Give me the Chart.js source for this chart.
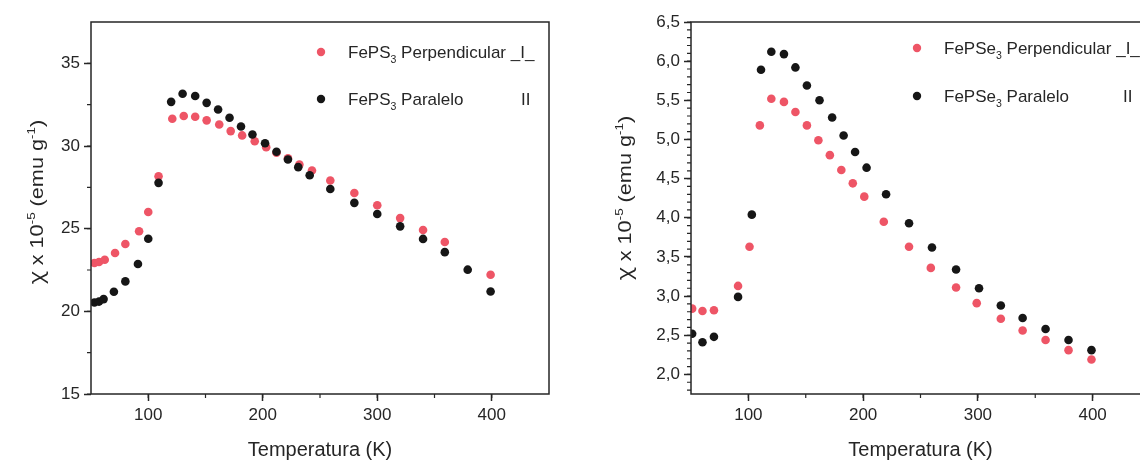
<!DOCTYPE html>
<html>
<head>
<meta charset="utf-8">
<script src="https://cdn.jsdelivr.net/npm/chart.js@4.4.1/dist/chart.umd.min.js"></script>
<style>
  html, body { margin: 0; padding: 0; background: #fff; overflow: hidden; }
  body { width: 1140px; height: 462px; position: relative; }
  #chartS { position: absolute; left: 0; top: 0; }
  #chartSe { position: absolute; left: 570px; top: 0; }
</style>
</head>
<body>
<canvas id="chartS" width="570" height="462"></canvas>
<canvas id="chartSe" width="600" height="462"></canvas>
<script>
// FePS3 (left panel)
const tempPerpS = [53, 57, 62, 71, 80, 92, 100, 109, 121, 131, 141, 151, 162, 172, 182, 193, 203, 212, 222, 232, 243, 259, 280, 300, 320, 340, 359, 399];
const chiPerpS = [22.92, 22.98, 23.12, 23.53, 24.07, 24.84, 26.01, 28.17, 31.65, 31.81, 31.77, 31.55, 31.30, 30.90, 30.64, 30.29, 29.93, 29.59, 29.26, 28.88, 28.52, 27.91, 27.16, 26.42, 25.64, 24.92, 24.19, 22.21];
const tempParS = [53, 57, 61, 70, 80, 91, 100, 109, 120, 130, 141, 151, 161, 171, 181, 191, 202, 212, 222, 231, 241, 259, 280, 300, 320, 340, 359, 379, 399];
const chiParS = [20.53, 20.59, 20.74, 21.18, 21.81, 22.86, 24.39, 27.77, 32.67, 33.16, 33.02, 32.61, 32.21, 31.71, 31.18, 30.70, 30.17, 29.65, 29.18, 28.72, 28.23, 27.40, 26.56, 25.89, 25.14, 24.38, 23.58, 22.52, 21.20];

// FePSe3 (right panel)
const tempPerpSe = [51, 60, 70, 91, 101, 110, 120, 131, 141, 151, 161, 171, 181, 191, 201, 218, 240, 259, 281, 299, 320, 339, 359, 379, 399];
const chiPerpSe = [2.84, 2.81, 2.82, 3.13, 3.63, 5.18, 5.52, 5.48, 5.35, 5.18, 4.99, 4.80, 4.61, 4.44, 4.27, 3.95, 3.63, 3.36, 3.11, 2.91, 2.71, 2.56, 2.44, 2.31, 2.19];
const tempParSe = [51, 60, 70, 91, 103, 111, 120, 131, 141, 151, 162, 173, 183, 193, 203, 220, 240, 260, 281, 301, 320, 339, 359, 379, 399];
const chiParSe = [2.52, 2.41, 2.48, 2.99, 4.04, 5.89, 6.12, 6.09, 5.92, 5.69, 5.50, 5.28, 5.05, 4.84, 4.64, 4.30, 3.93, 3.62, 3.34, 3.10, 2.88, 2.72, 2.58, 2.44, 2.31];

// ticks
const tempTicks = [100, 200, 300, 400];
const chiTicksS = [15, 20, 25, 30, 35];
const chiTicksSe = [2.0, 2.5, 3.0, 3.5, 4.0, 4.5, 5.0, 5.5, 6.0, 6.5];

const xTitle = 'Temperatura (K)';
const perpLabel = ' Perpendicular _I_';
const parLabel = ' Paralelo';

const RED = '#ee5566';
const BLACK = '#161616';
const INK = '#262626';
const FONT = '"Liberation Sans", Arial, sans-serif';

const toPoints = (xs, ys) => xs.map((x, i) => ({ x: x, y: ys[i] }));

// draws text pieces with subscript / superscript along the baseline
const drawRich = (ctx, parts, x, y, size) => {
    let cx = x;
    parts.forEach(p => {
        const s = p.sub || p.sup ? size * 0.62 : size;
        ctx.font = s + 'px ' + (p.font || FONT);
        const dy = p.sub ? size * 0.3 : (p.sup ? -size * 0.42 : 0);
        ctx.fillText(p.t, cx, y + dy);
        cx += ctx.measureText(p.t).width;
    });
    return cx - x;
};

const richWidth = (ctx, parts, size) => {
    let w = 0;
    parts.forEach(p => {
        const s = p.sub || p.sup ? size * 0.62 : size;
        ctx.font = s + 'px ' + (p.font || FONT);
        w += ctx.measureText(p.t).width;
    });
    return w;
};

const yTitleParts = [
    { t: 'χ', font: '"Noto Sans", "DejaVu Sans", sans-serif' }, { t: ' x 10' }, { t: '-5', sup: true },
    { t: ' (emu g' }, { t: '-1', sup: true }, { t: ')' }
];

const panelDeco = {
    id: 'panelDeco',
    afterDraw(chart, args, o) {
        const { ctx, chartArea: a, scales } = chart;
        ctx.save();
        ctx.strokeStyle = INK;
        ctx.lineWidth = 1.5;
        ctx.strokeRect(a.left, a.top, a.right - a.left, a.bottom - a.top);

        // minor ticks
        ctx.lineWidth = 1.2;
        ctx.beginPath();
        for (let v = scales.x.min + o.xMinor; v < scales.x.max; v += o.xMinor) {
            const px = scales.x.getPixelForValue(v);
            ctx.moveTo(px, a.bottom);
            ctx.lineTo(px, a.bottom + 4);
        }
        const first = Math.ceil(scales.y.min / o.yMinor) * o.yMinor;
        for (let v = first; v < scales.y.max; v += o.yMinor) {
            const py = scales.y.getPixelForValue(v);
            ctx.moveTo(a.left, py);
            ctx.lineTo(a.left - 4, py);
        }
        ctx.stroke();

        ctx.fillStyle = INK;
        ctx.textBaseline = 'alphabetic';

        // x title
        ctx.font = '20px ' + FONT;
        ctx.textAlign = 'center';
        ctx.fillText(xTitle, (a.left + a.right) / 2, 456);

        // y title, rotated and a little stretched like the original
        ctx.textAlign = 'left';
        const tw = richWidth(ctx, yTitleParts, 19);
        ctx.save();
        ctx.translate(o.yTitleX, o.yTitleY);
        ctx.rotate(-Math.PI / 2);
        ctx.scale(1.14, 1);
        drawRich(ctx, yTitleParts, -tw / 2, 0, 19);
        ctx.restore();

        // legend
        o.legend.forEach(row => {
            ctx.fillStyle = row.color;
            ctx.beginPath();
            ctx.arc(o.legX, row.y, 4.2, 0, Math.PI * 2);
            ctx.fill();
            ctx.fillStyle = INK;
            drawRich(ctx, row.parts, o.legX + 27, row.y + 6, 17);
            if (row.extra) {
                ctx.font = '17px ' + FONT;
                ctx.fillText(row.extra, o.extraX, row.y + 6);
            }
        });
        ctx.restore();
    }
};

const makeChart = (id, sets, yMin, yMax, yTicks, fmt, padRight, yWidth, deco) => {
    return new Chart(document.getElementById(id), {
        type: 'scatter',
        data: {
            datasets: [
                { data: toPoints(sets[2], sets[3]), backgroundColor: BLACK, pointRadius: 4.3, pointBorderWidth: 0, order: 0 },
                { data: toPoints(sets[0], sets[1]), backgroundColor: RED, pointRadius: 4.3, pointBorderWidth: 0, order: 1 }
            ]
        },
        options: {
            responsive: false,
            animation: false,
            events: [],
            layout: { padding: { left: 0, right: padRight, top: 22, bottom: 0 } },
            plugins: { legend: { display: false }, tooltip: { enabled: false }, panelDeco: deco },
            scales: {
                x: {
                    type: 'linear', min: 50, max: 450,
                    afterBuildTicks: s => { s.ticks = tempTicks.map(v => ({ value: v })); },
                    afterFit: s => { s.height = 68; },
                    grid: { drawOnChartArea: false, tickLength: 7, tickColor: INK, tickWidth: 1.5 },
                    border: { display: false },
                    ticks: { color: INK, font: { family: FONT, size: 17 }, padding: 4, maxRotation: 0 }
                },
                y: {
                    type: 'linear', min: yMin, max: yMax,
                    afterBuildTicks: s => { s.ticks = yTicks.map(v => ({ value: v })); },
                    afterFit: s => { s.width = yWidth; },
                    grid: { drawOnChartArea: false, tickLength: 7, tickColor: INK, tickWidth: 1.5 },
                    border: { display: false },
                    ticks: { color: INK, font: { family: FONT, size: 17 }, padding: 4, callback: fmt }
                }
            }
        },
        plugins: [panelDeco]
    });
};

makeChart('chartS', [tempPerpS, chiPerpS, tempParS, chiParS], 15, 37.5, chiTicksS,
    v => String(v), 21, 91, {
        xMinor: 50, yMinor: 2.5, yTitleX: 43, yTitleY: 202, legX: 321, extraX: 521,
        legend: [
            { y: 52, color: RED, parts: [{ t: 'FePS' }, { t: '3', sub: true }, { t: perpLabel }] },
            { y: 99, color: BLACK, parts: [{ t: 'FePS' }, { t: '3', sub: true }, { t: parLabel }], extra: 'II' }
        ]
    });

makeChart('chartSe', [tempPerpSe, chiPerpSe, tempParSe, chiParSe], 1.75, 6.5, chiTicksSe,
    v => v.toFixed(1).replace('.', ','), 20, 121, {
        xMinor: 50, yMinor: 0.1, yTitleX: 61, yTitleY: 198, legX: 347, extraX: 553,
        legend: [
            { y: 48, color: RED, parts: [{ t: 'FePSe' }, { t: '3', sub: true }, { t: perpLabel }] },
            { y: 96, color: BLACK, parts: [{ t: 'FePSe' }, { t: '3', sub: true }, { t: parLabel }], extra: 'II' }
        ]
    });
</script>
</body>
</html>
